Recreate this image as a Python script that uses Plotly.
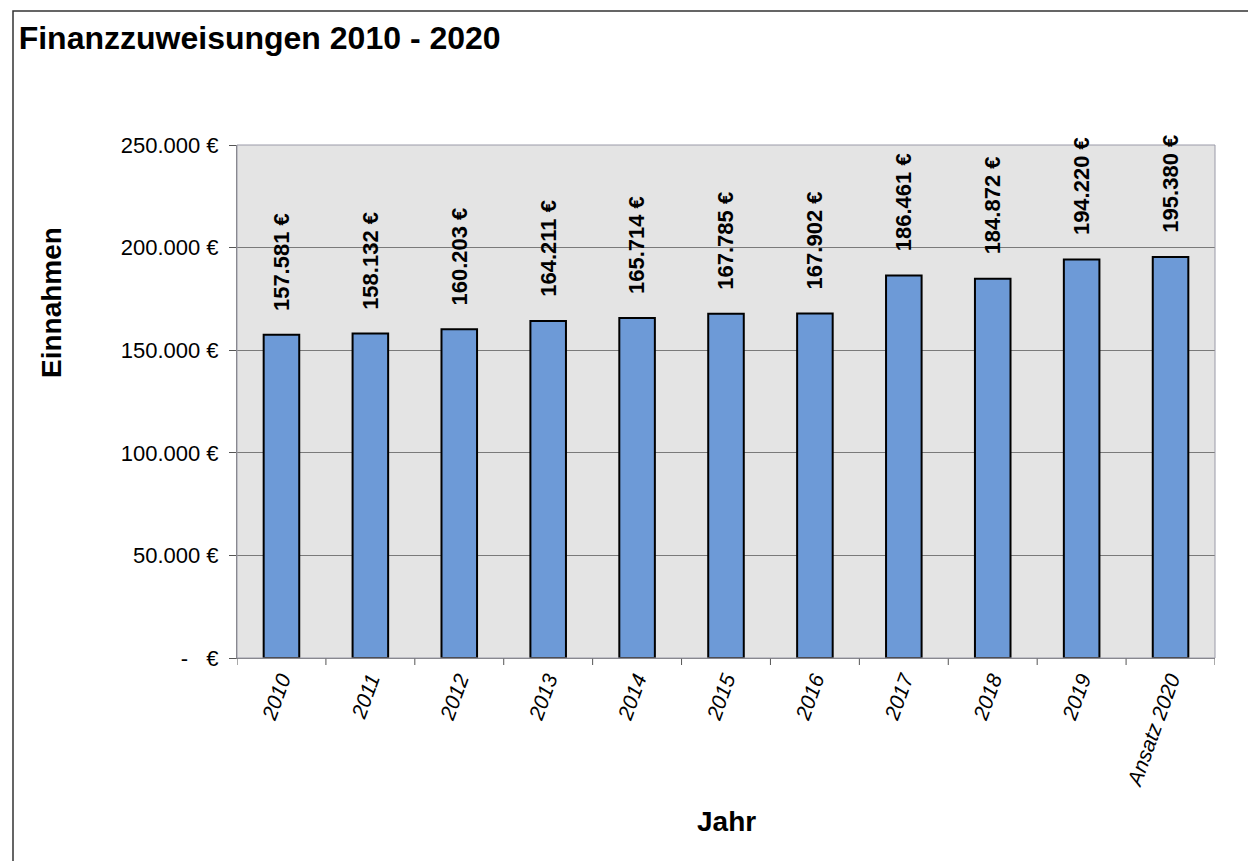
import plotly.graph_objects as go

categories = ["2010", "2011", "2012", "2013", "2014", "2015", "2016", "2017", "2018", "2019", "Ansatz 2020"]
values = [157581, 158132, 160203, 164211, 165714, 167785, 167902, 186461, 184872, 194220, 195380]
value_labels = ["157.581 €", "158.132 €", "160.203 €", "164.211 €", "165.714 €", "167.785 €",
                "167.902 €", "186.461 €", "184.872 €", "194.220 €", "195.380 €"]
y_tickvals = [0, 50000, 100000, 150000, 200000, 250000]
y_ticktext = ["-   €", "50.000 €", "100.000 €", "150.000 €", "200.000 €", "250.000 €"]

FONT = "Liberation Sans, Arial"
idx = list(range(len(categories)))

# plot area in screen pixels (reference): left 237, right 1215, top 145, bottom 658
PL, PR, PT, PB = 237, 1215, 145, 658
PW, PH = PR - PL, PB - PT
OFF = 8  # page margin offset


def px(xs):
    return (xs - PL) / PW


def py(ys):
    return (PB - ys) / PH


fig = go.Figure()
fig.add_trace(go.Bar(
    x=idx, y=values,
    marker=dict(color="#6d9ad7", line=dict(color="#000000", width=2)),
    hoverinfo="skip",
))

for i, v, t in zip(idx, values, value_labels):
    fig.add_annotation(x=i, y=v, xref="x", yref="y", text=t, textangle=-90, showarrow=False,
                       yanchor="bottom", yshift=22,
                       font=dict(family=FONT, size=22, color="#000000", weight="bold"))

# outer frame
fig.add_shape(type="rect", xref="paper", yref="paper", layer="below",
              x0=px(13), x1=px(1256), y0=py(880), y1=py(11),
              line=dict(color="#333333", width=1.5), fillcolor="rgba(0,0,0,0)")

# axis titles
fig.add_annotation(xref="paper", yref="paper", x=0.5, y=py(821),
                   text="<b>Jahr</b>", showarrow=False, yanchor="middle",
                   font=dict(family=FONT, size=28, color="#000000"))
fig.add_annotation(xref="paper", yref="paper", x=px(51), y=py(303),
                   text="<b>Einnahmen</b>", showarrow=False, textangle=-90,
                   xanchor="center", yanchor="middle",
                   font=dict(family=FONT, size=28, color="#000000"))

fig.update_layout(
    width=1256, height=861,
    paper_bgcolor="#ffffff", plot_bgcolor="#e4e4e4",
    margin=dict(l=PL - OFF, r=1256 + OFF - PR, t=PT - OFF, b=861 + OFF - PB, autoexpand=False),
    bargap=0.6, showlegend=False,
    font=dict(family=FONT, color="#000000"),
    title=dict(text="<b>Finanzzuweisungen 2010 - 2020</b>", x=0.0085, xanchor="left",
               y=1 - (38 - OFF) / 861, yanchor="middle", font=dict(size=32)),
)
fig.update_xaxes(
    tickmode="array", tickvals=idx, ticktext=categories,
    range=[-0.5, len(categories) - 0.5],
    tickangle=-70, ticks="", showline=True, linecolor="#777777", linewidth=1,
    tickfont=dict(size=21, style="italic"), automargin=False,
    showgrid=False, zeroline=False,
)
# boundary ticks on the x axis
for b in range(0, len(categories) + 1):
    fig.add_shape(type="line", xref="x", yref="paper", x0=b - 0.5, x1=b - 0.5,
                  y0=0, y1=-7 / PH, line=dict(color="#555555", width=1))
fig.update_yaxes(
    range=[0, 250000], tickvals=y_tickvals, ticktext=y_ticktext,
    ticks="outside", ticklen=7, tickcolor="#555555",
    showline=True, linecolor="#777777", linewidth=1,
    gridcolor="#7a7a7a", gridwidth=1, zeroline=False,
    tickfont=dict(size=22), automargin=False, ticklabelstandoff=6,
)
fig.add_shape(type="rect", xref="paper", yref="paper", x0=0, x1=1, y0=0, y1=1,
              line=dict(color="#9a9aa8", width=1), layer="above")

fig.write_html("out.html")
